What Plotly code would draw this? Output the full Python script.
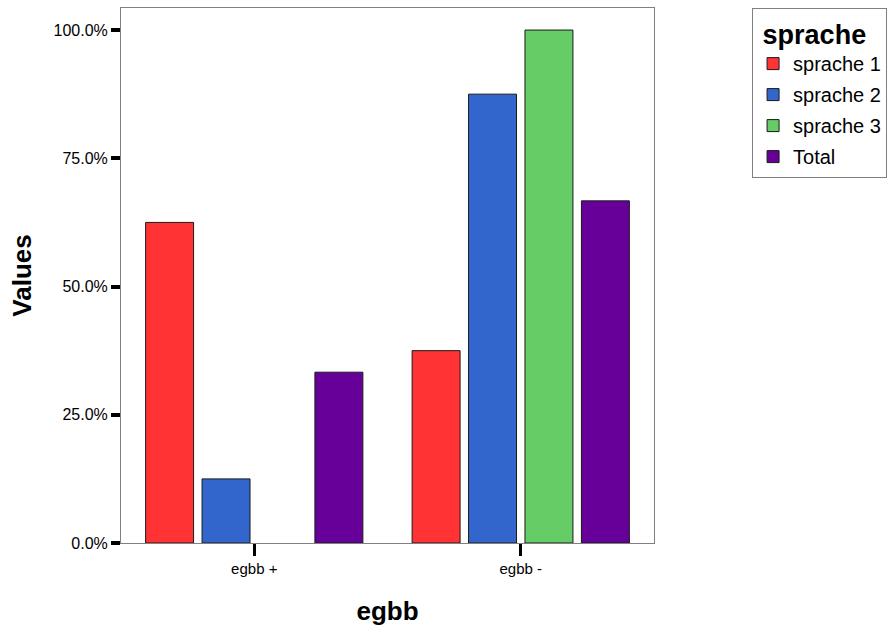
import plotly.graph_objects as go

categories = ["egbb +", "egbb -"]
series_names = ["sprache 1", "sprache 2", "sprache 3", "Total"]
sprache1 = [0.625, 0.375]
sprache2 = [0.125, 0.875]
sprache3 = [None, 1.0]
total = [0.333, 0.667]
colors = ["#FF3333", "#3366CC", "#66CC66", "#660099"]
y_ticks = [0, 0.25, 0.5, 0.75, 1.0]

FONT = "Arial, Liberation Sans, sans-serif"

fig = go.Figure()
for name, vals, col in zip(series_names, [sprache1, sprache2, sprache3, total], colors):
    fig.add_trace(go.Bar(
        x=categories, y=vals, name=name, legendgroup=name,
        marker=dict(color=col, line=dict(color="#1a1a1a", width=1)),
    ))

fig.update_layout(
    width=887, height=627,
    margin=dict(l=121, r=233, t=8, b=84, autoexpand=False),
    paper_bgcolor="white", plot_bgcolor="white",
    barmode="group", bargap=0.153, bargroupgap=0.15,
    font=dict(family=FONT, color="black"),
    showlegend=True,
    legend=dict(
        x=1.184, y=1.0, xanchor="left", yanchor="top",
        bordercolor="#808080", borderwidth=1, bgcolor="white",
        font=dict(size=20, family=FONT),
        title=dict(text="&nbsp;<b>sprache</b>", font=dict(size=27, family=FONT)),
        tracegroupgap=2,
    ),
    xaxis=dict(
        range=[-0.5, 1.5],
        showline=True, linecolor="#808080", linewidth=1, mirror=True,
        ticks="outside", ticklen=12, tickwidth=3, tickcolor="black",
        tickfont=dict(size=15, family=FONT),
        title=dict(text="<b>egbb</b>", font=dict(size=26, family=FONT), standoff=25),
        showgrid=False, zeroline=False,
    ),
    yaxis=dict(
        range=[0, 1.043],
        tickvals=y_ticks, tickformat=".1%",
        showline=True, linecolor="#808080", linewidth=1, mirror=True,
        ticks="outside", ticklen=9, tickwidth=4, tickcolor="black",
        tickfont=dict(size=16, family=FONT),
        title=dict(text="<b>Values</b>", font=dict(size=26, family=FONT), standoff=14),
        showgrid=False, zeroline=False,
    ),
)

fig.write_html(
    "out.html",
    config={"displayModeBar": False},
    post_script="document.body.style.margin='0';document.body.style.overflow='hidden';",
)
